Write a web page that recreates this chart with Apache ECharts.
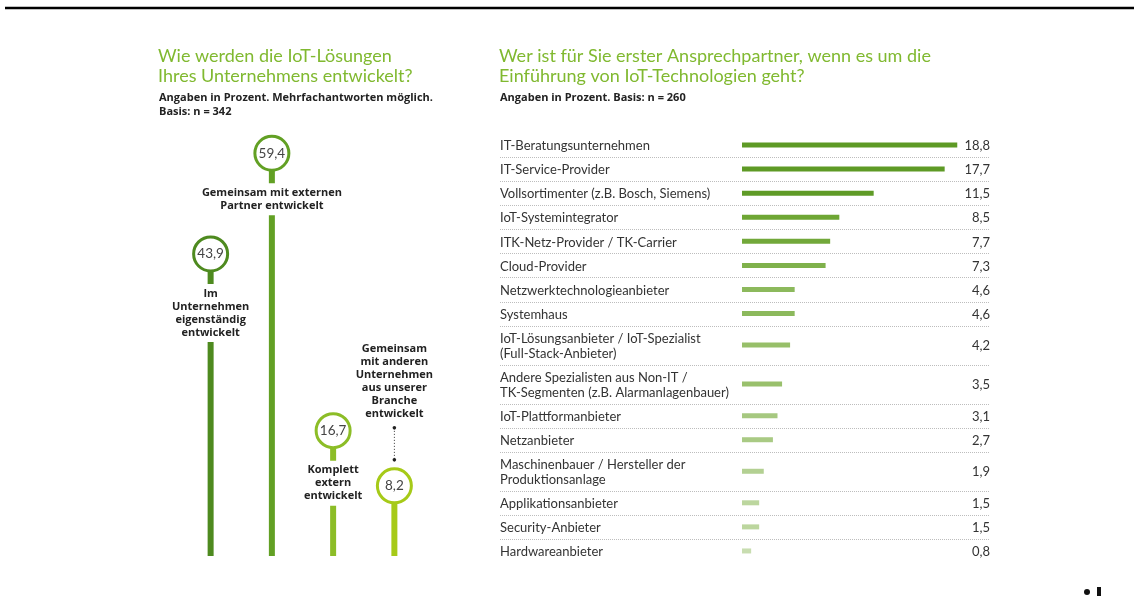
<!DOCTYPE html>
<html>
<head>
<meta charset="utf-8">
<script src="https://cdn.jsdelivr.net/npm/echarts@6/dist/echarts.min.js"></script>
<style>
  html, body { margin: 0; padding: 0; background: #fff; }
  #main { width: 1134px; height: 596px; }
</style>
</head>
<body>
<div id="main"></div>
<script>
// linke Grafik: Wie werden die IoT-Lösungen entwickelt?
var devLabels = [
  'Im\nUnternehmen\neigenständig\nentwickelt',
  'Gemeinsam mit externen\nPartner entwickelt',
  'Komplett\nextern\nentwickelt',
  'Gemeinsam\nmit anderen\nUnternehmen\naus unserer\nBranche\nentwickelt'
]
var devValues = [43.9, 59.4, 16.7, 8.2]

// rechte Grafik: erster Ansprechpartner
var partnerLabels = [
  'IT-Beratungsunternehmen',
  'IT-Service-Provider',
  'Vollsortimenter (z.B. Bosch, Siemens)',
  'IoT-Systemintegrator',
  'ITK-Netz-Provider / TK-Carrier',
  'Cloud-Provider',
  'Netzwerktechnologieanbieter',
  'Systemhaus',
  'IoT-Lösungsanbieter / IoT-Spezialist\n(Full-Stack-Anbieter)',
  'Andere Spezialisten aus Non-IT /\nTK-Segmenten (z.B. Alarmanlagenbauer)',
  'IoT-Plattformanbieter',
  'Netzanbieter',
  'Maschinenbauer / Hersteller der\nProduktionsanlage',
  'Applikationsanbieter',
  'Security-Anbieter',
  'Hardwareanbieter'
]
var partnerValues = [18.8, 17.7, 11.5, 8.5, 7.7, 7.3, 4.6, 4.6, 4.2, 3.5, 3.1, 2.7, 1.9, 1.5, 1.5, 0.8]

// Farben
var devColors = ['#4e8a1f', '#62a024', '#8cbd27', '#a6ca18']
var partnerColors = ['#5e9a25', '#5e9a25', '#5f9b27', '#6ea634', '#72a83a', '#7fb14b', '#8cb95c', '#8cb95c',
  '#97bf69', '#99c06c', '#a6c880', '#a9ca84', '#b3d092', '#bcd69e', '#bcd69e', '#c8ddb0']

var FONT = 'Lato'
var BOLD_FONT = 'Open Sans'
var TITLE_GREEN = '#80b930'

// Zeilenhöhen aus Zeilenzahl der Beschriftung
var rowUnits = partnerLabels.map(function (l) { return l.indexOf('\n') >= 0 ? 1.62 : 1 })
var rowCenters = []
var acc = 0
rowUnits.forEach(function (u) { rowCenters.push(acc + u / 2); acc += u })
var totalUnits = acc

var chart = echarts.init(document.getElementById('main'))

var option = {
  animation: false,
  title: [
    {
      text: 'Wie werden die IoT-Lösungen\nIhres Unternehmens entwickelt?',
      left: 158, top: 46, padding: 0,
      textStyle: { fontFamily: FONT, fontSize: 18, fontWeight: 'normal', color: TITLE_GREEN, lineHeight: 20 }
    },
    {
      text: 'Angaben in Prozent. Mehrfachantworten möglich.\nBasis: n = 342',
      left: 159, top: 91, padding: 0,
      textStyle: { fontFamily: BOLD_FONT, fontSize: 11, fontWeight: 'bold', color: '#222', lineHeight: 14 }
    },
    {
      text: 'Wer ist für Sie erster Ansprechpartner, wenn es um die\nEinführung von IoT-Technologien geht?',
      left: 499, top: 46, padding: 0,
      textStyle: { fontFamily: FONT, fontSize: 18, fontWeight: 'normal', color: TITLE_GREEN, lineHeight: 20 }
    },
    {
      text: 'Angaben in Prozent. Basis: n = 260',
      left: 500, top: 91, padding: 0,
      textStyle: { fontFamily: BOLD_FONT, fontSize: 11, fontWeight: 'bold', color: '#222', lineHeight: 14 }
    }
  ],
  grid: [
    { left: 180, width: 245, top: 100, bottom: 40 },
    { left: 742, width: 229, top: 133, height: 430 }
  ],
  xAxis: [
    { gridIndex: 0, type: 'category', data: devLabels, show: false },
    { gridIndex: 1, type: 'value', min: 0, max: 20, show: false }
  ],
  yAxis: [
    { gridIndex: 0, type: 'value', min: -2.6, max: 67.6, show: false },
    { gridIndex: 1, type: 'value', min: 0, max: totalUnits, inverse: true, show: false }
  ],
  series: [
    {
      type: 'custom',
      xAxisIndex: 0,
      yAxisIndex: 0,
      data: devValues.map(function (v, i) { return [i, v] }),
      renderItem: function (params, api) {
        var i = api.value(0)
        var p = api.coord([i, api.value(1)])
        var cs = params.coordSys
        var bottom = cs.y + cs.height
        var color = devColors[i]
        var cx = p[0], cy = p[1], r = 17
        var children = [
          { type: 'rect', shape: { x: cx - 3, y: cy, width: 6, height: bottom - cy }, style: { fill: color } },
          { type: 'circle', shape: { cx: cx, cy: cy, r: r }, style: { fill: '#fff', stroke: color, lineWidth: 3 } },
          {
            type: 'text', x: cx, y: cy,
            style: { text: String(api.value(1)).replace('.', ','), fontFamily: FONT, fontSize: 13.5, fill: '#444', align: 'center', verticalAlign: 'middle' }
          }
        ]
        var label = devLabels[i]
        if (i < 3) {
          children.push({
            type: 'text', x: cx, y: cy + r + 13,
            style: {
              text: label, fontFamily: BOLD_FONT, fontSize: 11, fontWeight: 'bold', fill: '#222', lineHeight: 13,
              align: 'center', verticalAlign: 'top', backgroundColor: '#fff', padding: [3, 2, 3, 2]
            }
          })
        } else {
          children.push(
            {
              type: 'text', x: cx, y: cy - 65,
              style: { text: label, fontFamily: BOLD_FONT, fontSize: 11, fontWeight: 'bold', fill: '#222', lineHeight: 13, align: 'center', verticalAlign: 'bottom' }
            },
            { type: 'line', shape: { x1: cx, y1: cy - 58, x2: cx, y2: cy - 26 }, style: { stroke: '#333', lineWidth: 1, lineDash: [1, 2] } },
            { type: 'circle', shape: { cx: cx, cy: cy - 58, r: 1.8 }, style: { fill: '#222' } },
            { type: 'circle', shape: { cx: cx, cy: cy - 26, r: 1.8 }, style: { fill: '#222' } }
          )
        }
        return { type: 'group', children: children }
      }
    },
    {
      type: 'custom',
      xAxisIndex: 1,
      yAxisIndex: 1,
      data: partnerValues.map(function (v, i) { return [v, rowCenters[i], i] }),
      renderItem: function (params, api) {
        var i = api.value(2)
        var v = api.value(0)
        var cs = params.coordSys
        var p0 = api.coord([0, api.value(1)])
        var p1 = api.coord([v, api.value(1)])
        var labelX = cs.x - 242
        var valueX = cs.x + cs.width + 19
        var children = [
          { type: 'rect', shape: { x: p0[0], y: p0[1] - 2.5, width: p1[0] - p0[0], height: 5 }, style: { fill: partnerColors[i] } },
          {
            type: 'text', x: labelX, y: p0[1] + 1,
            style: { text: partnerLabels[i], fontFamily: FONT, fontSize: 13, fill: '#333', lineHeight: 15, align: 'left', verticalAlign: 'middle' }
          },
          {
            type: 'text', x: valueX, y: p0[1] + 1,
            style: { text: v.toFixed(1).replace('.', ','), fontFamily: FONT, fontSize: 13, fill: '#333', align: 'right', verticalAlign: 'middle' }
          }
        ]
        if (i < partnerValues.length - 1) {
          var yb = api.coord([0, rowCenters[i] + rowUnits[i] / 2])[1]
          yb = Math.round(yb) + 0.5
          children.push({
            type: 'line', shape: { x1: labelX, y1: yb, x2: valueX, y2: yb },
            style: { stroke: '#bdbdbd', lineWidth: 1, lineDash: [1, 1] }
          })
        }
        return { type: 'group', children: children }
      }
    }
  ],
  graphic: [
    { type: 'line', shape: { x1: 5, y1: 8, x2: 1134, y2: 8 }, style: { stroke: '#000', lineWidth: 2.5 } },
    { type: 'circle', shape: { cx: 1087, cy: 592, r: 3 }, style: { fill: '#111' } },
    { type: 'rect', shape: { x: 1097, y: 587, width: 4, height: 9 }, style: { fill: '#111' } }
  ]
}

chart.setOption(option)
</script>
</body>
</html>
